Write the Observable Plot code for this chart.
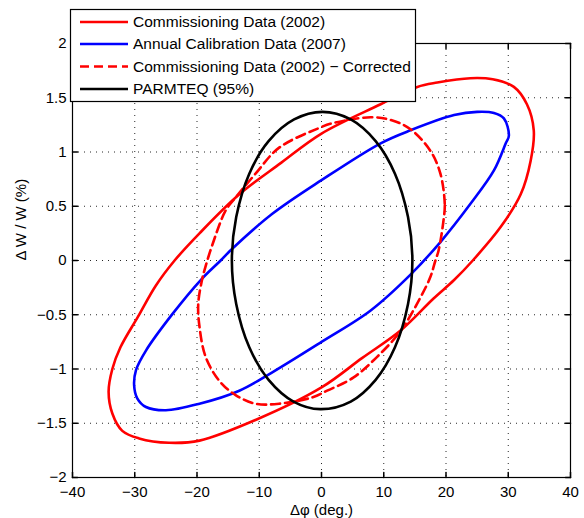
<!DOCTYPE html>
<html>
<head>
<meta charset="utf-8">
<script src="https://cdn.jsdelivr.net/npm/d3@7"></script>
<script src="https://cdn.jsdelivr.net/npm/@observablehq/plot@0.6"></script>
<style>
  html, body { margin: 0; padding: 0; background: #fff; }
  #chart { position: relative; width: 584px; height: 518px; }
  svg { font-family: "Liberation Sans", Arial, Helvetica, sans-serif; }
</style>
</head>
<body>
<div id="chart"></div>
<script>
// ---- data ----
const seriesNames = [
  "Commissioning Data (2002)",
  "Annual Calibration Data (2007)",
  "Commissioning Data (2002) \u2212 Corrected",
  "PARMTEQ (95%)"
];
const seriesColors = ["#ff0000", "#0000ff", "#ff0000", "#000000"];
const seriesDashed = [false, false, true, false];

const commissioningX = [34.1, 33.0, 30.9, 27.5, 23.9, 18.6, 15.4, 9.5, 0, -6.5, -13.2, -19.6, -23.6, -26.6, -29.5, -32.3, -33.6, -34.2, -33.6, -32.0, -29.3, -24.5, -19.6, -10.6, 0, 6.5, 12.7, 18.0, 21.3, 24.3, 28.8, 32.0, 33.6];
const commissioningY = [1.20, 1.44, 1.60, 1.67, 1.68, 1.64, 1.60, 1.44, 1.17, 0.90, 0.61, 0.25, 0.00, -0.23, -0.52, -0.80, -1.00, -1.21, -1.41, -1.57, -1.64, -1.68, -1.66, -1.47, -1.17, -0.90, -0.645, -0.35, -0.18, 0.00, 0.31, 0.61, 0.92];

const annualX = [30.1, 29.3, 27.7, 25.0, 21.3, 14.3, 9.5, 0, -7.9, -14.3, -16.2, -19.4, -23.9, -28.2, -29.8, -30.1, -29.6, -28.2, -25.0, -19.6, -13.2, -7.9, 0, 7.9, 14.3, 19.1, 23.9, 27.7, 29.6];
const annualY = [1.15, 1.31, 1.36, 1.37, 1.34, 1.20, 1.08, 0.74, 0.43, 0.11, 0.00, -0.18, -0.49, -0.83, -1.01, -1.15, -1.27, -1.35, -1.38, -1.32, -1.20, -1.03, -0.75, -0.46, -0.13, 0.17, 0.52, 0.83, 1.08];

const correctedX = [19.6, 19.8, 19.1, 17.5, 14.3, 11.4, 7.9, 1.4, 0, -6.8, -10.6, -13.8, -15.4, -17.5, -18.6, -19.2, -19.8, -19.6, -18.6, -16.4, -13.8, -10.6, -6.8, -1.4, 0.9, 5.1, 8.9, 12.7, 15.9, 17.5, 18.3, 18.8];
const correctedY = [0.37, 0.52, 0.80, 1.01, 1.21, 1.29, 1.32, 1.26, 1.23, 1.04, 0.80, 0.58, 0.46, 0.15, -0.05, -0.18, -0.40, -0.61, -0.89, -1.11, -1.24, -1.32, -1.32, -1.26, -1.20, -1.08, -0.89, -0.65, -0.34, -0.15, 0.00, 0.09];

const parmteqX = [0.15, 4.7, 8.7, 11.8, 13.9, 14.6, 13.9, 11.8, 8.7, 4.7, -0.2, -4.5, -8.5, -11.6, -13.7, -14.4, -13.7, -11.6, -8.5, -4.4];
const parmteqY = [1.37, 1.30, 1.10, 0.80, 0.40, 0.00, -0.40, -0.80, -1.10, -1.30, -1.37, -1.30, -1.10, -0.80, -0.40, 0.00, 0.40, 0.80, 1.10, 1.30];

const xTicks = [-40, -30, -20, -10, 0, 10, 20, 30, 40];
const yTicks = [-2, -1.5, -1, -0.5, 0, 0.5, 1, 1.5, 2];
const xLabel = "\u0394\u03c6 (deg.)";
const yLabel = "\u0394 W / W (%)";

// ---- build tables ----
function toRows(xs, ys, k) { return xs.map((x, i) => ({x, y: ys[i], k})); }
const curves = [
  toRows(commissioningX, commissioningY, 0),
  toRows(annualX, annualY, 1),
  toRows(correctedX, correctedY, 2),
  toRows(parmteqX, parmteqY, 3)
];

const tickShape = { draw(ctx, l) { ctx.moveTo(0, 0); ctx.lineTo(0, -l); } };
const fmt = d3.format("");
const FONT = 15;

const marks = [
  Plot.gridX(xTicks.slice(1, -1), {stroke: "#000", strokeOpacity: 0.85, strokeDasharray: "1,5"}),
  Plot.gridY(yTicks.slice(1, -1), {stroke: "#000", strokeOpacity: 0.85, strokeDasharray: "1,5"}),
];
curves.forEach((rows, k) => {
  marks.push(Plot.line(rows, {
    x: "x", y: "y", curve: "catmull-rom-closed",
    stroke: seriesColors[k], strokeWidth: 2.6,
    strokeDasharray: seriesDashed[k] ? "9,5" : null
  }));
});
marks.push(
  Plot.vector(xTicks, {x: d => d, y: -2, length: 5, rotate: 0, anchor: "start", shape: tickShape, stroke: "#000"}),
  Plot.vector(xTicks, {x: d => d, y: 2, length: 5, rotate: 180, anchor: "start", shape: tickShape, stroke: "#000"}),
  Plot.vector(yTicks, {y: d => d, x: -40, length: 5, rotate: 90, anchor: "start", shape: tickShape, stroke: "#000"}),
  Plot.vector(yTicks, {y: d => d, x: 40, length: 5, rotate: -90, anchor: "start", shape: tickShape, stroke: "#000"}),
  Plot.frame({stroke: "#000", strokeWidth: 1.2}),
  Plot.axisX(xTicks, {tickSize: 0, tickPadding: 9, tickFormat: fmt, fontSize: FONT, fill: "#000", label: null}),
  Plot.axisY(yTicks, {tickSize: 0, tickPadding: 6, tickFormat: fmt, fontSize: FONT, fill: "#000", label: null}),
  Plot.text([xLabel], {frameAnchor: "bottom", dy: 37, text: d => d, fontSize: FONT, fill: "#000"}),
  Plot.text([yLabel], {frameAnchor: "left", dx: -51, rotate: -90, text: d => d, fontSize: FONT, fill: "#000"})
);

const plot = Plot.plot({
  width: 584,
  height: 518,
  marginLeft: 72,
  marginRight: 14,
  marginTop: 43,
  marginBottom: 41,
  x: {domain: [-40, 40]},
  y: {domain: [-2, 2]},
  style: {fontFamily: '"Liberation Sans", Arial, Helvetica, sans-serif', fontSize: FONT + "px", background: "#fff", color: "#000"},
  marks
});
document.getElementById("chart").appendChild(plot);

// ---- legend overlay (drawn into the same svg) ----
const svg = d3.select(plot);
const lg = svg.append("g").attr("class", "legend").attr("text-anchor", "start");
const box = {x: 70.5, y: 9.5, w: 345, h: 92};
lg.append("rect").attr("x", box.x).attr("y", box.y).attr("width", box.w).attr("height", box.h)
  .attr("fill", "#fff").attr("stroke", "#000").attr("stroke-width", 1.2);
const rowY = [22, 44, 66.5, 89];
seriesNames.forEach((name, k) => {
  lg.append("line").attr("x1", 80).attr("x2", 128).attr("y1", rowY[k]).attr("y2", rowY[k])
    .attr("stroke", seriesColors[k]).attr("stroke-width", 2.6)
    .attr("stroke-dasharray", seriesDashed[k] ? "9,5" : null);
  lg.append("text").attr("x", 133).attr("y", rowY[k]).attr("dy", "0.35em")
    .attr("text-anchor", "start")
    .attr("font-size", 15.5).attr("fill", "#000").text(name);
});
</script>
</body>
</html>
